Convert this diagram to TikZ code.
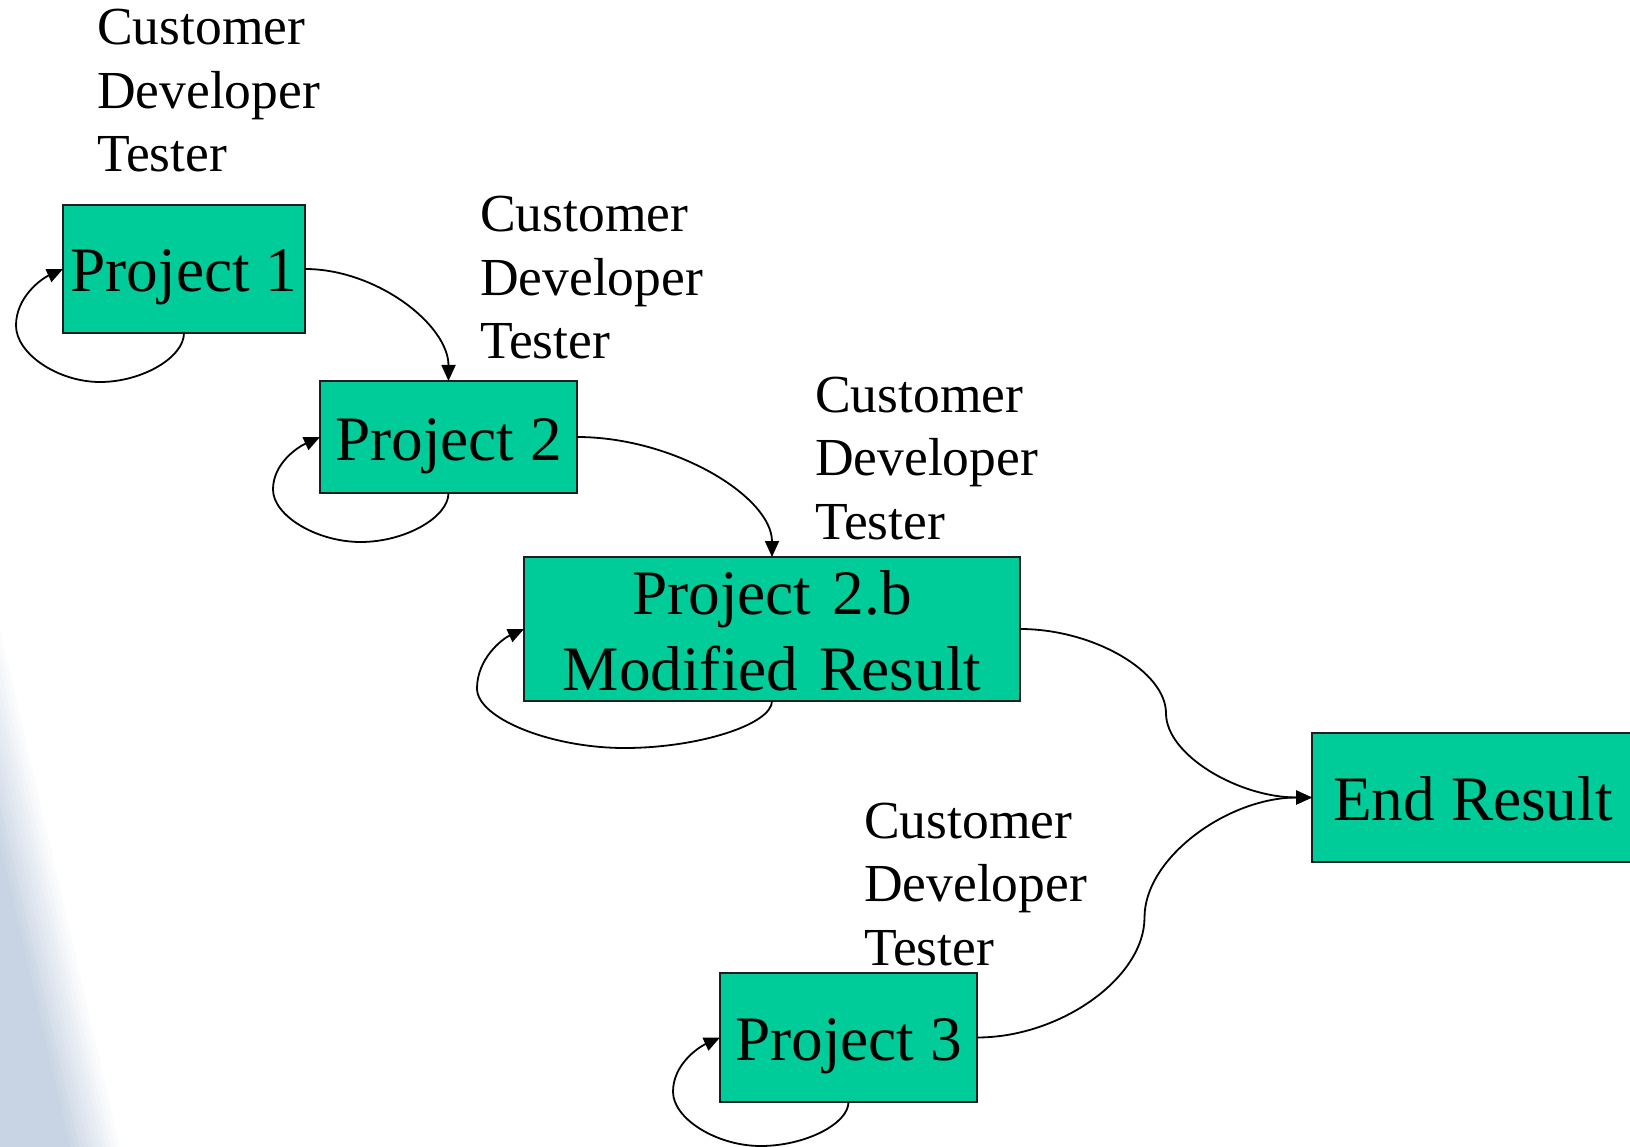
\documentclass[tikz,border=0pt]{standalone}
\usepackage{fontspec}
\setmainfont{Liberation Serif}
\usetikzlibrary{arrows.meta,calc}
\definecolor{boxgreen}{RGB}{0,204,153}
\definecolor{boxborder}{RGB}{30,30,30}
\definecolor{bgblue}{RGB}{200,212,227}
\tikzset{
  box/.style={draw=boxborder, line width=1.6pt, fill=boxgreen, inner sep=0pt, outer sep=0pt,
    anchor=north west, font=\fontsize{63.3}{76}\selectfont},
  lbl/.style={anchor=base west, inner sep=0pt, text width=330pt, align=left,
    font=\fontsize{53.5}{63.5}\selectfont},
  conn/.style={line width=1.8pt, -{Triangle[length=16pt,width=14pt]}},
}
\begin{document}
\begin{tikzpicture}[x=1pt,y=1pt]
\useasboundingbox (0,0) rectangle (1630,-1147);
% soft-edged background band
\begin{scope}
  \clip (0,0) rectangle (1630,-1147);
  \begin{scope}[shift={(0,-735)}, rotate=-77]
    \foreach \n in {1,...,12} {
      \pgfmathsetmacro{\off}{24-(\n-1)*48/11}
      \pgfmathsetmacro{\op}{1/(13-\n)}
      \fill[bgblue, opacity=\op] (-100,-400) rectangle (600,\off);
    }
  \end{scope}
\end{scope}

% boxes
\node[box, minimum width=242pt, text height=87pt, text depth=41pt] (p1) at (63,-205) {Project 1};
\node[box, minimum width=257pt, text height=79pt, text depth=33pt] (p2) at (320,-381) {Project 2};
\node[box, text width=496pt, align=center, text height=57pt, text depth=87pt] (p2b) at (524,-557) {Project 2.b\\Modified Result};
\node[box, minimum width=322pt, text height=87pt, text depth=42pt] (er) at (1312,-733) {End Result};
\node[box, minimum width=257pt, text height=87pt, text depth=42pt] (p3) at (720,-973) {Project 3};

% labels
\node[lbl] (l1) at (97,-45) {Customer\\Developer\\Tester};
\node[lbl] (l2) at (480,-232) {Customer\\Developer\\Tester};
\node[lbl] (l3) at (815,-412) {Customer\\Developer\\Tester};
\node[lbl] (l4) at (864,-838) {Customer\\Developer\\Tester};

% main connectors
\draw[conn] (p1.east) .. controls +(71.75,0) and +(0,56) .. (p2.north);
\draw[conn] (p2.east) .. controls +(97.5,0) and +(0,60) .. (p2b.north);
\coordinate (m1) at ($(p2b.east)!0.5!(er.west)$);
\draw[conn] (p2b.east) .. controls +(73,0) and +(0,42) .. (m1) .. controls +(0,-42) and +(-73,0) .. (er.west);
\coordinate (m2) at ($(p3.east)!0.5!(er.west)$);
\draw[conn] (p3.east) .. controls +(83.75,0) and +(0,-60) .. (m2) .. controls +(0,60) and +(-83.75,0) .. (er.west);

% self loops
\coordinate (p1b) at (100,-382); \coordinate (p1l) at (16,-325.5);
\draw[conn] (p1.south) .. controls +(0,-24.5) and +(42,0) .. (p1b)
  .. controls +(-42,0) and +(0,-28.25) .. (p1l)
  .. controls +(0,28.25) and +(-22,-10) .. (p1.west);
\coordinate (p2lb) at (360.75,-542); \coordinate (p2ll) at (273,-489.5);
\draw[conn] (p2.south) .. controls +(0,-24.5) and +(43.9,0) .. (p2lb)
  .. controls +(-43.9,0) and +(0,-26.25) .. (p2ll)
  .. controls +(0,26.25) and +(-22,-10) .. (p2.west);
\coordinate (p2bb) at (624.5,-748); \coordinate (p2bl) at (477,-688.5);
\draw[conn] (p2b.south) .. controls +(0,-23.5) and +(73.75,0) .. (p2bb)
  .. controls +(-73.75,0) and +(0,-29.75) .. (p2bl)
  .. controls +(0,29.75) and +(-22,-10) .. (p2b.west);
\coordinate (p3b) at (760.75,-1146); \coordinate (p3l) at (673,-1091.75);
\draw[conn] (p3.south) .. controls +(0,-22) and +(43.9,0) .. (p3b)
  .. controls +(-43.9,0) and +(0,-27.1) .. (p3l)
  .. controls +(0,27.1) and +(-22,-10) .. (p3.west);
\end{tikzpicture}
\end{document}
